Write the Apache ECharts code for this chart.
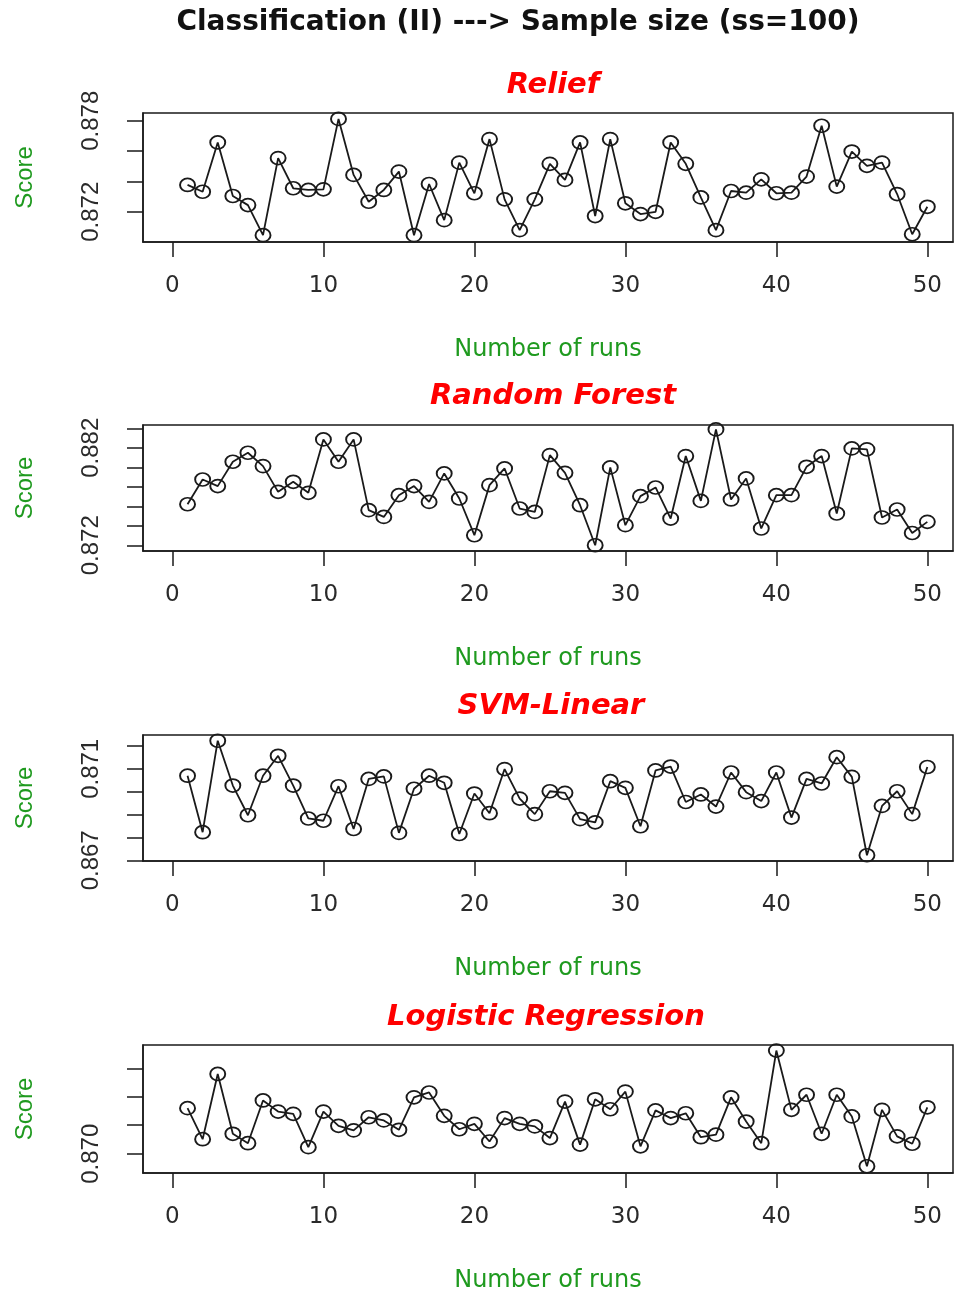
<!DOCTYPE html>
<html lang="en">
<head>
    <meta charset="UTF-8">
    <title>Classification (II) ---> Sample size (ss=100)</title>
    <script src="https://cdn.jsdelivr.net/npm/echarts@6/dist/echarts.min.js"></script>
</head>
<style>
    html, body {
        margin: 0;
        padding: 0;
        background: #ffffff;
    }

    #chart {
        width: 955px;
        height: 1297px;
    }
</style>
<body>
<div id="chart"></div>
<script type="text/javascript">
    // x values (number of runs)
    const runs = [1, 2, 3, 4, 5, 6, 7, 8, 9, 10, 11, 12, 13, 14, 15, 16, 17, 18, 19, 20,
        21, 22, 23, 24, 25, 26, 27, 28, 29, 30, 31, 32, 33, 34, 35, 36, 37, 38, 39, 40,
        41, 42, 43, 44, 45, 46, 47, 48, 49, 50];
    const xTicks = [0, 10, 20, 30, 40, 50];

    // scores
    const reliefScores = [0.87377, 0.87332, 0.87657, 0.87304, 0.87244, 0.87046, 0.87554, 0.87355, 0.87344, 0.87348,
        0.87812, 0.87443, 0.87266, 0.87344, 0.87465, 0.87046, 0.87383, 0.87145, 0.87524, 0.87322,
        0.87679, 0.87282, 0.87079, 0.87282, 0.87516, 0.87410, 0.87657, 0.87172, 0.87679, 0.87256,
        0.87185, 0.87200, 0.87657, 0.87516, 0.87295, 0.87079, 0.87337, 0.87326, 0.87414, 0.87322,
        0.87326, 0.87432, 0.87767, 0.87366, 0.87597, 0.87503, 0.87524, 0.87317, 0.87052, 0.87233];
    const rfScores = [0.87621, 0.87875, 0.87807, 0.88057, 0.88149, 0.88012, 0.87748, 0.87851, 0.87738, 0.88286,
        0.88057, 0.88286, 0.87560, 0.87491, 0.87714, 0.87807, 0.87645, 0.87937, 0.87680, 0.87303,
        0.87817, 0.87988, 0.87577, 0.87542, 0.88125, 0.87943, 0.87611, 0.87200, 0.87999, 0.87406,
        0.87704, 0.87793, 0.87474, 0.88115, 0.87655, 0.88389, 0.87670, 0.87886, 0.87372, 0.87714,
        0.87714, 0.88005, 0.88115, 0.87526, 0.88194, 0.88184, 0.87485, 0.87567, 0.87326, 0.87440];
    const svmScores = [0.87070, 0.86823, 0.87223, 0.87027, 0.86897, 0.87070, 0.87157, 0.87027, 0.86883, 0.86873,
        0.87024, 0.86837, 0.87056, 0.87067, 0.86820, 0.87013, 0.87070, 0.87039, 0.86815, 0.86992,
        0.86906, 0.87099, 0.86970, 0.86902, 0.87002, 0.86995, 0.86880, 0.86866, 0.87046, 0.87017,
        0.86849, 0.87093, 0.87110, 0.86955, 0.86988, 0.86935, 0.87084, 0.86998, 0.86959, 0.87084,
        0.86887, 0.87056, 0.87036, 0.87151, 0.87065, 0.86722, 0.86938, 0.87002, 0.86902, 0.87108];
    const lrScores = [0.87160, 0.87051, 0.87280, 0.87070, 0.87037, 0.87187, 0.87148, 0.87140, 0.87023, 0.87148,
        0.87098, 0.87082, 0.87128, 0.87117, 0.87084, 0.87198, 0.87215, 0.87133, 0.87086, 0.87105,
        0.87043, 0.87125, 0.87105, 0.87096, 0.87055, 0.87183, 0.87032, 0.87191, 0.87156, 0.87218,
        0.87026, 0.87152, 0.87125, 0.87142, 0.87058, 0.87067, 0.87198, 0.87113, 0.87037, 0.87362,
        0.87154, 0.87207, 0.87070, 0.87207, 0.87131, 0.86956, 0.87154, 0.87061, 0.87035, 0.87163];

    // y ticks and the labels R kept
    const reliefTicks = [0.872, 0.874, 0.876, 0.878];
    const reliefLabels = [0.872, 0.878];
    const rfTicks = [0.872, 0.874, 0.876, 0.878, 0.880, 0.882, 0.884];
    const rfLabels = [0.872, 0.882];
    const svmTicks = [0.867, 0.868, 0.869, 0.870, 0.871, 0.872];
    const svmLabels = [0.867, 0.871];
    const lrTicks = [0.870, 0.871, 0.872, 0.873];
    const lrLabels = [0.870];

    const panelTitles = ['Relief', 'Random Forest', 'SVM-Linear', 'Logistic Regression'];

    const panels = [
        {scores: reliefScores, ticks: reliefTicks, labels: reliefLabels, min: 0.87001, max: 0.87851, top: 113, height: 129, titleTop: 71, titleX: 553},
        {scores: rfScores, ticks: rfTicks, labels: rfLabels, min: 0.87141, max: 0.88434, top: 425, height: 126, titleTop: 382, titleX: 553},
        {scores: svmScores, ticks: svmTicks, labels: svmLabels, min: 0.86697, max: 0.87248, top: 735, height: 126, titleTop: 692, titleX: 551},
        {scores: lrScores, ticks: lrTicks, labels: lrLabels, min: 0.869324, max: 0.873816, top: 1045, height: 128, titleTop: 1003, titleX: 546}
    ];

    const green = '#1f9a1f';
    const ink = '#1a1a1a';

    let option = {
        backgroundColor: '#ffffff',
        animation: false,
        title: [{
            text: 'Classification (II) ---> Sample size (ss=100)',
            left: 518,
            top: 9,
            textAlign: 'center',
            padding: 0,
            textStyle: {fontFamily: 'DejaVu Sans', fontWeight: 'bold', fontSize: 28, color: '#111'}
        }],
        grid: [],
        xAxis: [],
        yAxis: [],
        series: []
    };

    panels.forEach(function (p, i) {
        option.title.push({
            text: panelTitles[i],
            left: p.titleX,
            top: p.titleTop,
            textAlign: 'center',
            padding: 0,
            textStyle: {fontFamily: 'DejaVu Sans', fontWeight: 'bold', fontStyle: 'italic', fontSize: 29, color: '#ff0000'}
        });
        option.grid.push({
            left: 143,
            right: 2,
            top: p.top,
            height: p.height,
            show: true,
            borderColor: ink,
            borderWidth: 1.5,
            backgroundColor: 'transparent'
        });
        option.xAxis.push({
            type: 'value',
            gridIndex: i,
            min: -1.95,
            max: 51.7,
            name: 'Number of runs',
            nameLocation: 'middle',
            nameGap: 96,
            nameTextStyle: {fontFamily: 'DejaVu Sans', fontSize: 24, color: green},
            axisLine: {show: true, onZero: false, lineStyle: {color: ink, width: 1.5}},
            axisTick: {show: true, length: 15, inside: false, customValues: xTicks, lineStyle: {color: ink, width: 1.5}},
            axisLabel: {customValues: xTicks, margin: 33, fontFamily: 'DejaVu Sans', fontSize: 23, color: '#2a2a2a'},
            splitLine: {show: false}
        });
        option.yAxis.push({
            type: 'value',
            gridIndex: i,
            min: p.min,
            max: p.max,
            name: 'Score',
            nameLocation: 'middle',
            nameRotate: 90,
            nameGap: 106,
            nameTextStyle: {fontFamily: 'Liberation Sans', fontSize: 24, color: green},
            axisLine: {show: true, onZero: false, lineStyle: {color: ink, width: 1.5}},
            axisTick: {show: true, length: 16, inside: false, customValues: p.ticks, lineStyle: {color: ink, width: 1.5}},
            axisLabel: {
                customValues: p.labels,
                rotate: 90,
                margin: 40,
                fontFamily: 'Liberation Sans',
                fontSize: 24,
                color: '#2a2a2a',
                formatter: function (v) {
                    return v.toFixed(3);
                }
            },
            splitLine: {show: false}
        });
        option.series.push({
            type: 'line',
            xAxisIndex: i,
            yAxisIndex: i,
            data: runs.map(function (r, k) {
                return [r, p.scores[k]];
            }),
            symbol: 'circle',
            symbolSize: [15, 13],
            showSymbol: true,
            showAllSymbol: true,
            lineStyle: {color: ink, width: 1.8},
            itemStyle: {color: 'rgba(0,0,0,0)', borderColor: ink, borderWidth: 1.8},
            emphasis: {disabled: true},
            silent: true
        });
    });

    let myChart = echarts.init(document.getElementById('chart'));
    myChart.setOption(option);
</script>
</body>
</html>
